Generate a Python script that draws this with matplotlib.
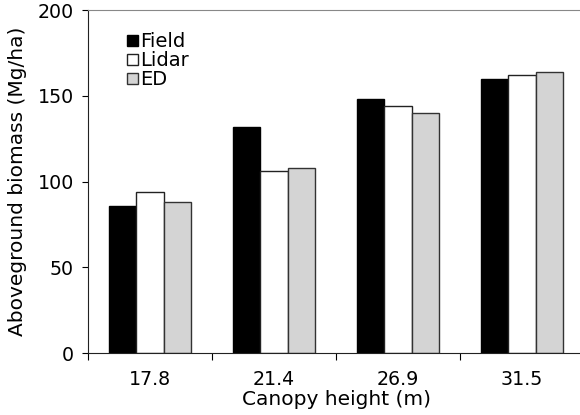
import matplotlib.pyplot as plt
import numpy as np

plt.rcParams['font.family'] = ['DejaVu Sans']

# canopy height classes and biomass per source (Mg/ha)
heights = ['17.8', '21.4', '26.9', '31.5']
field = [86, 132, 148, 160]
lidar = [94, 106, 144, 162]
ed = [88, 108, 140, 164]

fig = plt.figure(figsize=(5.8, 4.15), dpi=100)
ax = fig.add_axes([88 / 580, 62 / 415, 496 / 580, 343 / 415])

idx = np.arange(len(heights))
w = 0.222
ax.bar(idx - w, field, w, color='black', edgecolor='black', linewidth=1.0, label='Field')
ax.bar(idx, lidar, w, color='white', edgecolor='#222222', linewidth=1.0, label='Lidar')
ax.bar(idx + w, ed, w, color='#d4d4d4', edgecolor='#333333', linewidth=1.0, label='ED')

ax.set_xlim(-0.5, 3.5)
ax.set_ylim(0, 200)
ax.set_yticks([0, 50, 100, 150, 200])
ax.tick_params(axis='y', labelsize=13.7, length=4, direction='out', pad=6)

# ticks between groups, labels in the middle
ax.set_xticks(np.arange(-0.5, 3.5, 1.0))
ax.set_xticklabels([])
ax.set_xticks(idx, minor=True)
ax.set_xticklabels(heights, minor=True)
ax.tick_params(axis='x', which='major', length=5, direction='out')
ax.tick_params(axis='x', which='minor', length=0, labelsize=13.7, pad=12)

ax.spines['right'].set_visible(False)
ax.spines['top'].set_color('#888888')
ax.spines['left'].set_color('#222222')
ax.spines['bottom'].set_color('#222222')

ax.set_xlabel('Canopy height (m)', fontsize=14.5, labelpad=1)
ax.set_ylabel('Aboveground biomass (Mg/ha)', fontsize=14.5, labelpad=8)

ax.legend(loc='upper left', bbox_to_anchor=(0.052, 0.975), frameon=False, fontsize=14,
          handlelength=0.52, handleheight=0.52, handletextpad=0.12, labelspacing=0.0,
          borderaxespad=0.3)

plt.savefig('out.png', dpi=100)
